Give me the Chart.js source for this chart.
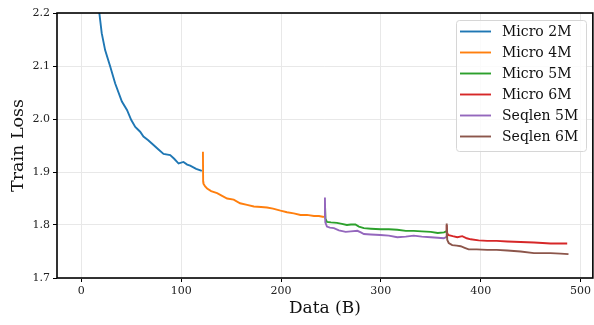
<!DOCTYPE html>
<html>
<head>
<meta charset="utf-8">
<script src="https://cdn.jsdelivr.net/npm/chart.js@4/dist/chart.umd.min.js"></script>
<style>
  html, body { margin: 0; padding: 0; background: #fff; }
  #wrap { width: 594px; height: 325px; }
</style>
</head>
<body>
<div id="wrap"><canvas id="lossChart"></canvas></div>
<script>
// values
const seriesNames = ['Micro 2M', 'Micro 4M', 'Micro 5M', 'Micro 6M', 'Seqlen 5M', 'Seqlen 6M'];
const seriesColors = ['#1f77b4', '#ff7f0e', '#2ca02c', '#d62728', '#9467bd', '#8c564b'];

const micro2mX = [17, 18, 20.4, 23.8, 28.9, 33.9, 40.6, 45.7, 50, 54, 58.9, 62.2, 67, 72.3, 77, 82.3, 89, 93, 97.4, 102.3, 106, 109, 115, 120.7];
const micro2mY = [2.22, 2.2, 2.162, 2.13, 2.099, 2.067, 2.033, 2.017, 1.998, 1.985, 1.976, 1.967, 1.96, 1.951, 1.943, 1.934, 1.932, 1.925, 1.916, 1.919, 1.914, 1.912, 1.906, 1.902];

const micro4mX = [121.8, 122, 122.3, 124, 126, 130, 136, 141, 146, 152.6, 159, 166, 172.8, 180, 186, 192, 199.5, 206, 212.8, 219.5, 226, 233, 238, 243];
const micro4mY = [1.938, 1.882, 1.878, 1.873, 1.869, 1.864, 1.86, 1.855, 1.85, 1.848, 1.841, 1.838, 1.835, 1.834, 1.833, 1.831, 1.827, 1.824, 1.822, 1.819, 1.819, 1.817, 1.817, 1.815];

const micro5mX = [243.8, 244, 244.5, 246, 250, 256, 261, 266, 270, 274.5, 278, 283, 290, 299.7, 308, 316.5, 325, 333, 341, 350, 357, 363.3, 365.5];
const micro5mY = [1.815, 1.84, 1.812, 1.806, 1.805, 1.804, 1.802, 1.8, 1.801, 1.801, 1.797, 1.794, 1.793, 1.792, 1.792, 1.791, 1.789, 1.789, 1.788, 1.787, 1.785, 1.786, 1.788];

const micro6mX = [365.8, 366, 366.5, 368, 372, 376.6, 381.6, 386, 390, 398, 406.6, 416, 426.7, 440, 453.4, 462, 470, 478, 486.7];
const micro6mY = [1.786, 1.8, 1.784, 1.781, 1.779, 1.777, 1.779, 1.775, 1.773, 1.771, 1.77, 1.77, 1.769, 1.768, 1.767, 1.766, 1.765, 1.765, 1.765];

const seqlen5mX = [243.8, 244, 244.4, 246, 249, 253, 258, 264.8, 270, 276.5, 280, 283, 290, 299.6, 308, 316.5, 325, 333, 341, 350, 357, 363, 365.5];
const seqlen5mY = [1.815, 1.852, 1.805, 1.797, 1.795, 1.794, 1.79, 1.787, 1.788, 1.789, 1.786, 1.783, 1.782, 1.781, 1.78, 1.777, 1.778, 1.78, 1.778, 1.777, 1.776, 1.775, 1.777];

const seqlen6mX = [365.8, 366, 366.5, 368, 371.5, 376, 380, 384, 388, 396, 406.6, 416, 426.7, 440, 453.4, 462, 470, 480, 488];
const seqlen6mY = [1.776, 1.803, 1.772, 1.766, 1.762, 1.761, 1.76, 1.757, 1.754, 1.754, 1.753, 1.753, 1.752, 1.75, 1.747, 1.747, 1.747, 1.746, 1.745];

const xTicks = [0, 100, 200, 300, 400, 500];
const yTicks = [1.7, 1.8, 1.9, 2.0, 2.1, 2.2];

const seriesX = [micro2mX, micro4mX, micro5mX, micro6mX, seqlen5mX, seqlen6mX];
const seriesY = [micro2mY, micro4mY, micro5mY, micro6mY, seqlen5mY, seqlen6mY];

const FONT = "'DejaVu Serif', 'Liberation Serif', serif";

const datasets = seriesNames.map((name, i) => ({
    label: name,
    data: seriesX[i].map((x, j) => ({ x: x, y: seriesY[i][j] })),
    borderColor: seriesColors[i],
    backgroundColor: seriesColors[i],
    borderWidth: 1.9,
    pointRadius: 0,
    tension: 0,
    fill: false,
    order: seriesNames.length - i, // later series drawn on top, like matplotlib
}));

// black frame around the plot + matplotlib style legend in the upper right
const framePlugin = {
    id: 'frameAndLegend',
    afterDraw(chart) {
        const { ctx, chartArea: a } = chart;
        ctx.save();
        ctx.strokeStyle = '#000';
        ctx.lineWidth = 1.6;
        ctx.strokeRect(a.left, a.top, a.right - a.left, a.bottom - a.top);

        // legend box
        const bx = 456, by = 20, bw = 130, bh = 131;
        ctx.beginPath();
        ctx.roundRect(bx + 0.5, by + 0.5, bw, bh, 3);
        ctx.fillStyle = 'rgba(255,255,255,0.8)';
        ctx.fill();
        ctx.strokeStyle = '#d6d6d6';
        ctx.lineWidth = 1;
        ctx.stroke();

        ctx.font = '14px ' + FONT;
        ctx.textBaseline = 'middle';
        chart.data.datasets.forEach((ds, i) => {
            const yy = 31.5 + i * 21;
            ctx.strokeStyle = ds.borderColor;
            ctx.lineWidth = 1.9;
            ctx.beginPath();
            ctx.moveTo(460, yy);
            ctx.lineTo(491, yy);
            ctx.stroke();
            ctx.fillStyle = '#111';
            ctx.fillText(ds.label, 502, yy + 1);
        });
        ctx.restore();
    }
};

new Chart(document.getElementById('lossChart'), {
    type: 'line',
    data: { datasets: datasets },
    plugins: [framePlugin],
    options: {
        responsive: true,
        maintainAspectRatio: false,
        animation: false,
        layout: { padding: { top: 13, right: 1, left: 0, bottom: 0 } },
        plugins: {
            legend: { display: false },
            tooltip: { enabled: false },
        },
        scales: {
            x: {
                type: 'linear',
                min: -24.4,
                max: 512.4,
                afterBuildTicks: (s) => { s.ticks = xTicks.map(v => ({ value: v })); },
                afterFit: (s) => { s.height = 47; },
                border: { display: false },
                grid: { color: '#e8e8e8', lineWidth: 1, tickColor: '#000', tickLength: 4 },
                ticks: { color: '#222', padding: 3, font: { family: FONT, size: 11 }, maxRotation: 0 },
                title: { display: true, text: 'Data (B)', color: '#111', font: { family: FONT, size: 17 }, padding: { top: 0, bottom: 6 } },
            },
            y: {
                type: 'linear',
                min: 1.7,
                max: 2.2,
                afterBuildTicks: (s) => { s.ticks = yTicks.map(v => ({ value: v })); },
                afterFit: (s) => { s.width = 57; },
                border: { display: false },
                grid: { color: '#e8e8e8', lineWidth: 1, tickColor: '#000', tickLength: 4 },
                ticks: { color: '#222', padding: 3, font: { family: FONT, size: 11 }, callback: (v) => Number(v).toFixed(1) },
                title: { display: true, text: 'Train Loss', color: '#111', font: { family: FONT, size: 17.5 }, padding: { top: 8, bottom: 0 } },
            },
        },
    },
});
</script>
</body>
</html>
